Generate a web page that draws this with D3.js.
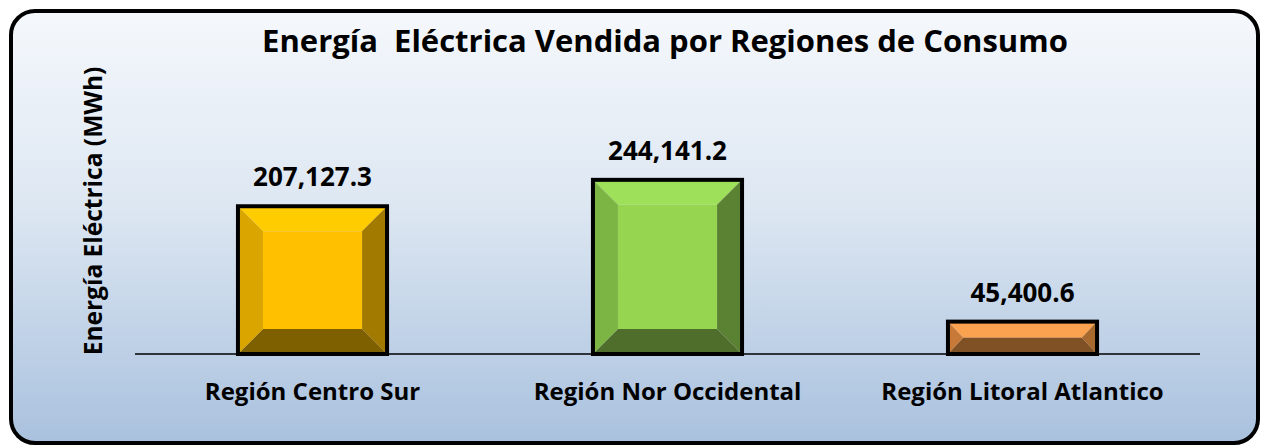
<!DOCTYPE html>
<html>
<head>
<meta charset="utf-8">
<script src="https://cdn.jsdelivr.net/npm/d3@7"></script>
<style>
  body { margin: 0; background: #fff; }
  svg text { font-family: "Open Sans", "Noto Sans", sans-serif; font-weight: bold; white-space: pre; }
</style>
</head>
<body>
<svg id="chart" width="1263" height="446"></svg>
<script>
const categories = ['Región Centro Sur', 'Región Nor Occidental', 'Región Litoral Atlantico'];
const values = [207127.3, 244141.2, 45400.6];
const valueLabels = ['207,127.3', '244,141.2', '45,400.6'];
const title = 'Energía  Eléctrica Vendida por Regiones de Consumo';
const yTitle = 'Energía Eléctrica (MWh)';

// bevel shades per bar: face, top, left, right, bottom
const shades = [
  { face: '#FFC000', top: '#FFCC00', left: '#DBA500', right: '#A27A00', bottom: '#7F6000' },
  { face: '#96D550', top: '#9EE05A', left: '#7DB545', right: '#5B8132', bottom: '#4F6E2B' },
  { face: '#F79646', top: '#FAA24F', left: '#C77A38', right: '#A8692F', bottom: '#7F5125' }
];

const svg = d3.select('#chart');
const W = 1263, H = 446;

const defs = svg.append('defs');
const grad = defs.append('linearGradient').attr('id', 'bg').attr('x1', 0).attr('y1', 0).attr('x2', 0).attr('y2', 1);
grad.append('stop').attr('offset', '0%').attr('stop-color', '#F5F8FC');
grad.append('stop').attr('offset', '45%').attr('stop-color', '#DDE7F2');
grad.append('stop').attr('offset', '100%').attr('stop-color', '#A9C1DE');

// frame
svg.append('rect')
  .attr('x', 11).attr('y', 11).attr('width', W - 16).attr('height', H - 14)
  .attr('rx', 24).attr('ry', 24)
  .attr('fill', 'url(#bg)')
  .attr('stroke', '#000').attr('stroke-width', 4);

const x = d3.scaleBand().domain(categories).range([135, 1200]).paddingInner(0.58).paddingOuter(0.29);
const y = d3.scaleLinear().domain([0, 300000]).range([354, 140]);

const g = svg.append('g');

const bars = g.selectAll('g.bar')
  .data(values)
  .join('g')
  .attr('class', 'bar');

bars.each(function (d, i) {
  const x0 = x(categories[i]), x1 = x0 + x.bandwidth();
  const y0 = y(d), y1 = y(0);
  const b = Math.min(25, (y1 - y0) / 2 - 1, x.bandwidth() / 2);
  const bv = Math.min(25, (y1 - y0) / 2);
  const s = shades[i];
  const sel = d3.select(this);
  const poly = (pts, fill) => sel.append('polygon').attr('points', pts.map(p => p.join(',')).join(' ')).attr('fill', fill);
  poly([[x0, y0], [x1, y0], [x1 - b, y0 + bv], [x0 + b, y0 + bv]], s.top);
  poly([[x0, y1], [x1, y1], [x1 - b, y1 - bv], [x0 + b, y1 - bv]], s.bottom);
  poly([[x0, y0], [x0 + b, y0 + bv], [x0 + b, y1 - bv], [x0, y1]], s.left);
  poly([[x1, y0], [x1 - b, y0 + bv], [x1 - b, y1 - bv], [x1, y1]], s.right);
  sel.append('rect').attr('x', x0 + b).attr('y', y0 + bv).attr('width', Math.max(0, x.bandwidth() - 2 * b)).attr('height', Math.max(0, y1 - y0 - 2 * bv)).attr('fill', s.face);
  sel.append('rect').attr('x', x0).attr('y', y0).attr('width', x.bandwidth()).attr('height', y1 - y0)
    .attr('fill', 'none').attr('stroke', '#000').attr('stroke-width', 4);
});

// baseline
g.append('line').attr('x1', 135).attr('x2', 1200).attr('y1', y(0)).attr('y2', y(0))
  .attr('stroke', '#000').attr('stroke-width', 1.5);

// value labels
g.selectAll('text.val')
  .data(values)
  .join('text')
  .attr('class', 'val')
  .attr('x', (d, i) => x(categories[i]) + x.bandwidth() / 2)
  .attr('y', d => y(d) - 20)
  .attr('text-anchor', 'middle')
  .attr('font-size', 26)
  .attr('fill', '#000')
  .text((d, i) => valueLabels[i]);

// category labels
const xAxis = d3.axisBottom(x).tickSize(0);
const ax = g.append('g').attr('transform', `translate(0,${y(0)})`).call(xAxis);
ax.select('.domain').remove();
ax.selectAll('text').attr('y', 46).attr('dy', 0).attr('font-size', 24).attr('fill', '#000')
  .style('font-family', '"Open Sans", sans-serif').style('font-weight', 'bold');

// title
svg.append('text')
  .attr('x', 665).attr('y', 52)
  .attr('text-anchor', 'middle')
  .attr('font-size', 31)
  .text(title);

// y title
svg.append('text')
  .attr('transform', 'translate(102,211) rotate(-90)')
  .attr('text-anchor', 'middle')
  .attr('font-size', 24.5)
  .text(yTitle);
</script>
</body>
</html>
